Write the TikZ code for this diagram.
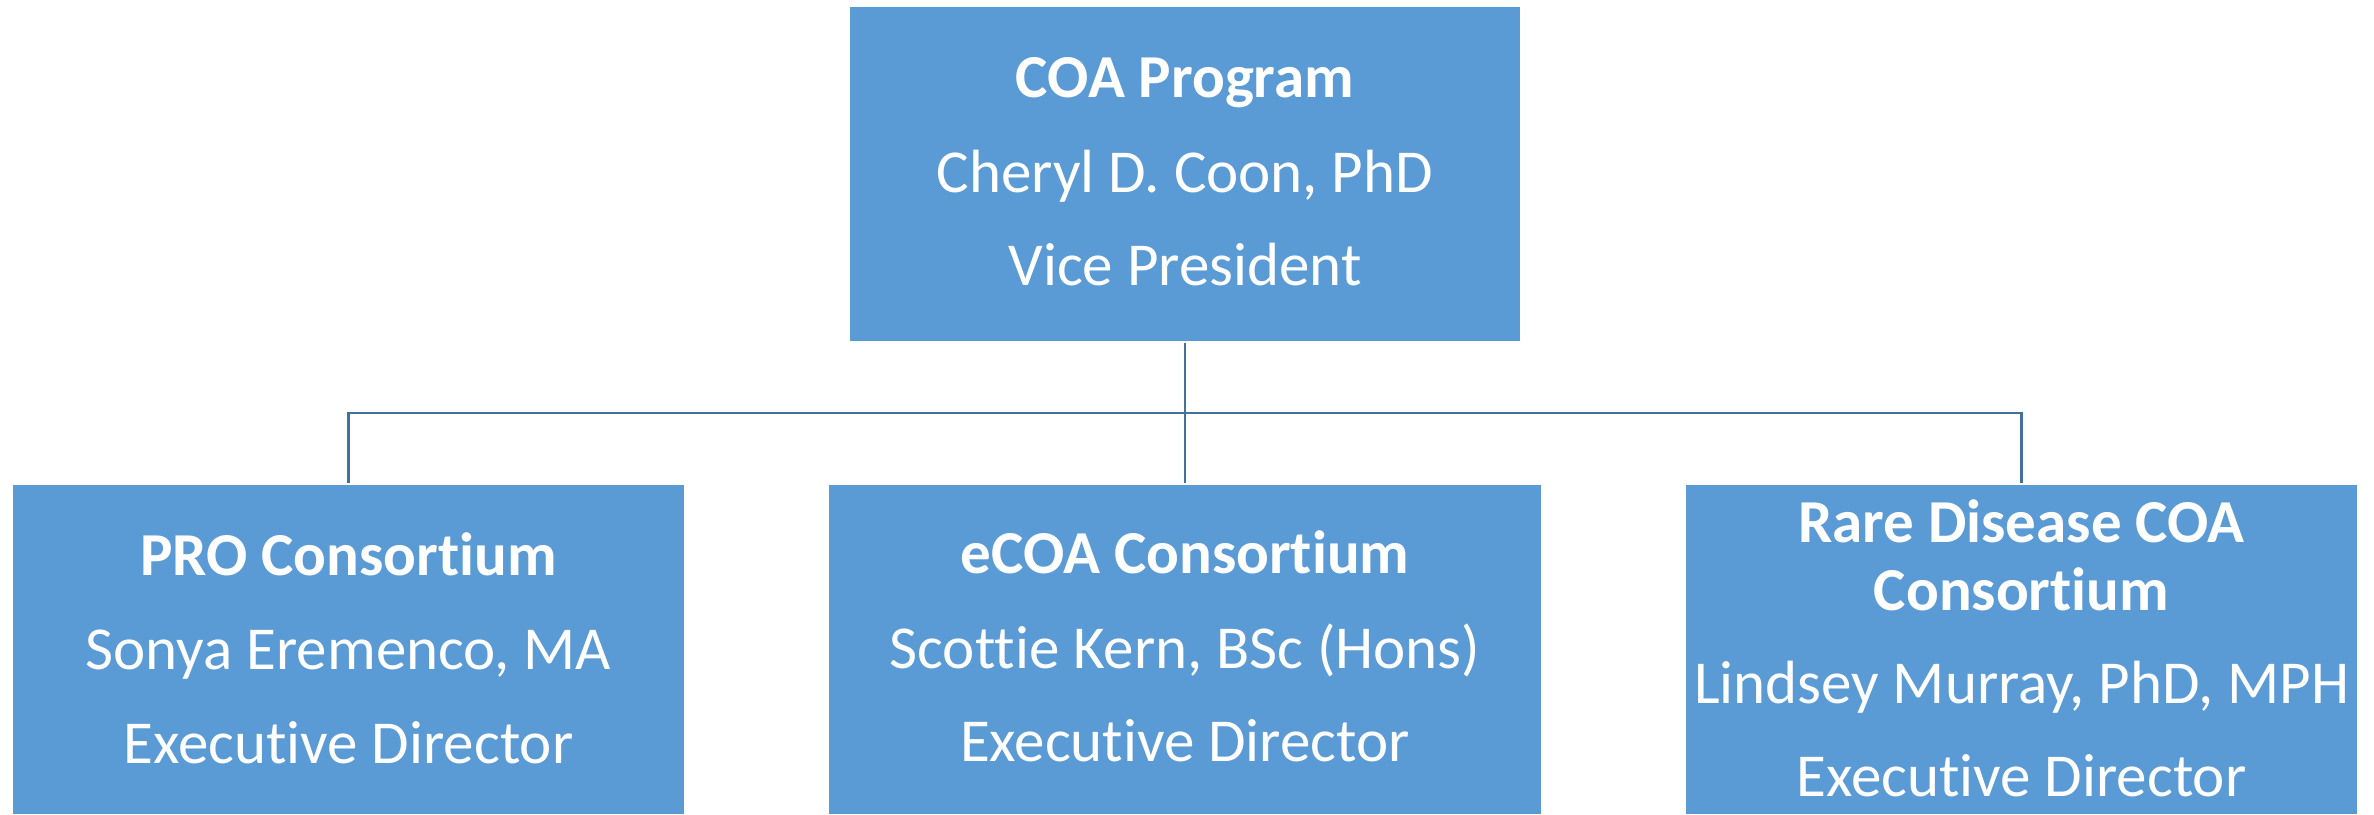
\documentclass[tikz,border=0pt]{standalone}
\usepackage{fontspec}
\setmainfont[Ligatures=NoCommon]{Carlito}
\definecolor{boxblue}{HTML}{5B9BD5}
\definecolor{linkblue}{HTML}{41719C}
\begin{document}
\begin{tikzpicture}[x=1pt,y=-1pt,
 box/.style={fill=boxblue, draw=none, inner sep=0pt, outer sep=0pt, rectangle},
 txt/.style={text=white, anchor=base, inner sep=0pt, font=\fontsize{61}{68}\selectfont},
 ttl/.style={txt, font=\fontsize{61}{68}\selectfont\bfseries},
 link/.style={draw=linkblue, line width=2.2pt}]
\useasboundingbox (0,0) rectangle (2374,814);
% boxes
\node[box, minimum width=670pt, minimum height=334pt] (top) at (1185,174) {};
\node[box, minimum width=671pt, minimum height=329pt] (left) at (348.5,649.5) {};
\node[box, minimum width=712pt, minimum height=329pt] (mid) at (1185,649.5) {};
\node[box, minimum width=671pt, minimum height=329pt] (right) at (2021.5,649.5) {};
% connectors
\coordinate (j) at (1185,413);
\draw[link] ([yshift=-2pt]top.south) -- (j) -- ([yshift=2pt]mid.north);
\draw[link] (j) -| ([yshift=2pt]left.north);
\draw[link] (j) -| ([yshift=2pt]right.north);
% texts
\node[ttl] (t1) at (1185,97) {COA Program};
\node[txt] (t2) at (1185,192) {Cheryl D. Coon, PhD};
\node[txt] (t3) at (1185,285) {Vice President};
\node[ttl] (l1) at (348.5,575) {PRO Consortium};
\node[txt] (l2) at (348.5,669) {Sonya Eremenco, MA};
\node[txt] (l3) at (348.5,763) {Executive Director};
\node[ttl] (m1) at (1185,573) {eCOA Consortium};
\node[txt] (m2) at (1185,668) {Scottie Kern, BSc (Hons)};
\node[txt] (m3) at (1185,761) {Executive Director};
\node[ttl] (r1) at (2021.5,542) {Rare Disease COA};
\node[ttl] (r2) at (2021.5,610) {Consortium};
\node[txt] (r3) at (2021.5,703) {Lindsey Murray, PhD, MPH};
\node[txt] (r4) at (2021.5,796) {Executive Director};
\end{tikzpicture}
\end{document}
